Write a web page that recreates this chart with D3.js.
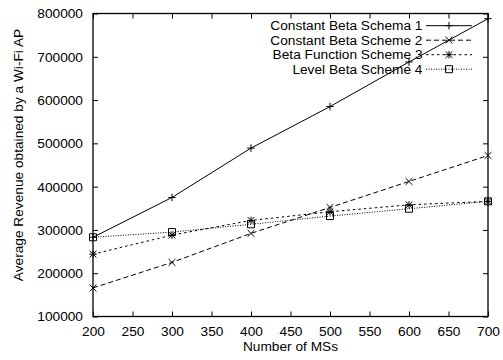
<!DOCTYPE html>
<html>
<head>
<meta charset="utf-8">
<script src="https://cdn.jsdelivr.net/npm/d3@7"></script>
<style>
  body { margin: 0; background: #fff; }
  svg { display: block; font-family: "Liberation Sans", Arial, sans-serif; }
</style>
</head>
<body>
<svg id="chart" width="503" height="360"></svg>
<script>
// number of MSs on x axis
const msCounts = [200, 300, 400, 500, 600, 700];

// average revenue per scheme
const scheme1 = [283000, 375000, 489000, 585000, 688000, 788000];
const scheme2 = [166000, 225000, 292000, 352000, 412000, 472000];
const scheme3 = [244000, 288000, 322000, 342000, 358000, 366000];
const scheme4 = [283000, 295000, 313000, 332000, 349000, 366000];

const seriesNames = [
  'Constant Beta Schema 1',
  'Constant Beta Scheme 2',
  'Beta Function Scheme 3',
  'Level Beta Scheme 4'
];

const xTicks = [200, 250, 300, 350, 400, 450, 500, 550, 600, 650, 700];
const yTicks = [100000, 200000, 300000, 400000, 500000, 600000, 700000, 800000];

const margin = { top: 13.5, right: 15, bottom: 43.5, left: 93 };
const width = 503 - margin.left - margin.right;
const height = 360 - margin.top - margin.bottom;

const svg = d3.select('#chart');
const g = svg.append('g')
  .attr('transform', `translate(${margin.left}, ${margin.top})`);

const xScale = d3.scaleLinear().domain([200, 700]).range([0, width]);
const yScale = d3.scaleLinear().domain([100000, 800000]).range([height, 0]);

const fontSize = '13.7px';

// axes with inward ticks, mirrored on top/right
const xAxis = g.append('g')
  .attr('transform', `translate(0, ${height})`)
  .call(d3.axisBottom(xScale).tickValues(xTicks).tickSize(-5).tickPadding(10).tickFormat(d3.format('d')));
const yAxis = g.append('g')
  .call(d3.axisLeft(yScale).tickValues(yTicks).tickSize(-5).tickPadding(10).tickFormat(d3.format('d')));
g.append('g')
  .call(d3.axisTop(xScale).tickValues(xTicks).tickSize(-5).tickFormat(''));
g.append('g')
  .attr('transform', `translate(${width}, 0)`)
  .call(d3.axisRight(yScale).tickValues(yTicks).tickSize(-5).tickFormat(''));

g.selectAll('.domain').remove();
g.selectAll('.tick line').attr('stroke', '#000').attr('stroke-width', 1);
g.selectAll('.tick text').attr('fill', '#000').style('font-size', fontSize);

g.append('rect')
  .attr('width', width).attr('height', height)
  .attr('fill', 'none').attr('stroke', '#000').attr('stroke-width', 1.3);

// series styles: solid, dashed, short dashed, dotted
const dashes = [null, '5,3', '2.5,3', '1,1.5'];
const allSeries = [scheme1, scheme2, scheme3, scheme4];

const plus = d3.symbol().type(d3.symbolPlus).size(20)();
const times = d3.symbol().type(d3.symbolTimes).size(32)();
const square = d3.symbol().type(d3.symbolSquare2).size(62)();
const markers = [[plus], [times], [plus, times], [square]];

const line = d3.line()
  .x((d, i) => xScale(msCounts[i]))
  .y(d => yScale(d));

allSeries.forEach((vals, s) => {
  g.append('path')
    .attr('d', line(vals))
    .attr('fill', 'none')
    .attr('stroke', '#000')
    .attr('stroke-width', 1)
    .attr('stroke-dasharray', dashes[s]);

  vals.forEach((v, i) => {
    markers[s].forEach(m => {
      g.append('path')
        .attr('d', m)
        .attr('transform', `translate(${xScale(msCounts[i])}, ${yScale(v)})`)
        .attr('fill', 'none')
        .attr('stroke', '#000')
        .attr('stroke-width', 1);
    });
  });
});

// legend, top right inside plot
const legend = svg.append('g');
seriesNames.forEach((name, s) => {
  const y = 25.7 + s * 14.5;
  legend.append('text')
    .attr('x', 422.5).attr('y', y)
    .attr('dy', '0.35em')
    .attr('text-anchor', 'end')
    .style('font-size', fontSize)
    .text(name);
  legend.append('line')
    .attr('x1', 426).attr('x2', 472)
    .attr('y1', y).attr('y2', y)
    .attr('stroke', '#000')
    .attr('stroke-width', 1)
    .attr('stroke-dasharray', dashes[s]);
  markers[s].forEach(m => {
    legend.append('path')
      .attr('d', m)
      .attr('transform', `translate(449, ${y})`)
      .attr('fill', 'none')
      .attr('stroke', '#000')
      .attr('stroke-width', 1);
  });
});

// axis titles
svg.append('text')
  .attr('x', margin.left + width / 2).attr('y', 351)
  .attr('text-anchor', 'middle')
  .style('font-size', fontSize)
  .text('Number of MSs');

svg.append('text')
  .attr('transform', 'translate(23, 155) rotate(-90)')
  .attr('text-anchor', 'middle')
  .style('font-size', fontSize)
  .text('Average Revenue obtained by a Wi-Fi AP');
</script>
</body>
</html>
